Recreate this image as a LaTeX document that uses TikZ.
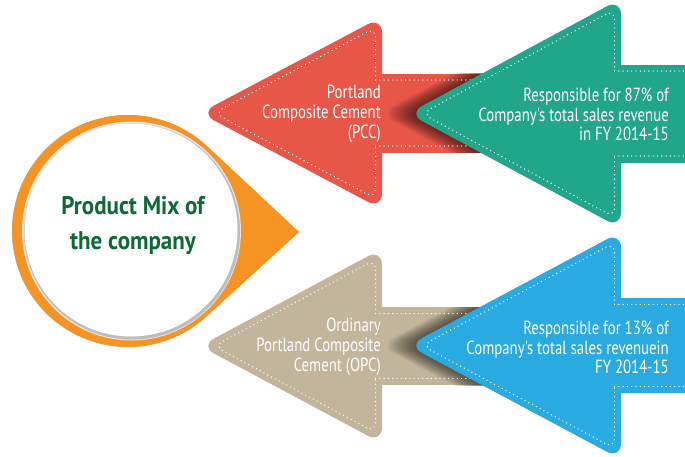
\documentclass[tikz,border=0pt]{standalone}
\usepackage{fontspec}
\newfontfamily\condfont[FakeStretch=0.78,Ligatures=TeXOff]{PT Sans}
\newfontfamily\titlefont[FakeStretch=0.9,Ligatures=TeXOff]{PT Sans Bold}

\definecolor{dropor}{RGB}{245,148,34}
\definecolor{pccred}{RGB}{232,86,72}
\definecolor{shareteal}{RGB}{33,166,140}
\definecolor{opctan}{RGB}{194,181,155}
\definecolor{shareblue}{RGB}{41,170,225}
\definecolor{titlegreen}{RGB}{12,106,54}

\tikzset{
  dotline/.style={white, line width=1.4pt, line cap=round, dash pattern=on 0pt off 4.3pt},
  headround/.style={rounded corners=16pt},
  arrowtext/.style={text=white, font=\condfont\fontsize{19}{19.7}\selectfont,
    align=right, inner sep=0pt, anchor=east},
  titletext/.style={text=titlegreen, font=\titlefont\fontsize{25.5}{35}\selectfont,
    align=center, inner sep=0pt},
}

% #1 colour, #2 tip x, #3 head back x, #4 shaft end x, #5 axis y,
% #6 head half-height, #7 shaft half-height
\newcommand\arwBody[7]{%
  \fill[#1] (#3,{#5-#7}) rectangle (#4,{#5+#7});
  \fill[#1, headround] (#3,{#5-#6}) -- (#2,#5) -- (#3,{#5+#6}) -- cycle;
}
% dotted white outline set inside the arrow
\newcommand\arwDots[7]{%
  \pgfmathsetmacro\arwLen{#3-#2}
  \pgfmathsetmacro\arwSin{#6/veclen(#6,\arwLen)}
  \pgfmathsetmacro\arwIns{6.5}
  \pgfmathsetmacro\arwBx{#3-\arwIns}
  \pgfmathsetmacro\arwTx{#2+\arwIns/\arwSin}
  \pgfmathsetmacro\arwHi{(\arwLen-\arwIns-\arwIns/\arwSin)/\arwLen*#6}
  \pgfmathsetmacro\arwSy{#7-\arwIns}
  \draw[dotline, rounded corners=10pt] (\arwBx,{#5-\arwSy}) -- (\arwBx,{#5-\arwHi})
     -- (\arwTx,#5) -- (\arwBx,{#5+\arwHi}) -- (\arwBx,{#5+\arwSy});
  \draw[dotline] (\arwBx,{#5-\arwSy}) -- (#4,{#5-\arwSy});
  \draw[dotline] (\arwBx,{#5+\arwSy}) -- (#4,{#5+\arwSy});
}
% soft shadow of a head (#1 tip x, #2 back x, #3 axis y, #4 head half-height)
% cast on the shaft clipped by #5..#8 (x1,y1,x2,y2)
\newcommand\arwShadow[8]{%
  \begin{scope}
    \clip (#5,#6) rectangle (#7,#8);
    \foreach \k in {1,...,12}{
      \fill[black, opacity=0.055, headround, xshift={-2.4*\k}]
        (#2,{#3-#4}) -- (#1,#3) -- (#2,{#3+#4}) -- cycle;
    }
  \end{scope}
}
% teardrop outline: circle round (dropc) with radius 116, pointed at (droptip)
\newcommand\dropPath{(droptip) -- ([shift={(-47.3:116)}]dropc)
     arc[start angle=-47.3, end angle=-312.7, radius=116] -- cycle}

\begin{document}
\begin{tikzpicture}[x=1pt,y=-1pt]
  \useasboundingbox (0,0) rectangle (685,456);
  \fill[white] (0,0) rectangle (685,456);

  % ---- teardrop with the title ----
  \coordinate (dropc) at (128,231);
  \coordinate (droptip) at (299,232);
  \begin{scope}[shift={(1.5,3)}]
    \fill[black!22] \dropPath;
  \end{scope}
  \fill[dropor] \dropPath;
  \fill[black!10] (131.5,231) circle (109.5);
  \fill[black!26] (132,231.5) circle (108);
  \fill[white] (131,230) circle (106.5);
  \node[titletext] (title) at (133,226) {Product Mix of\\the company};

  % ---- upper pair ----
  \arwBody{pccred}{200}{382}{520}{113}{96.3}{39.5}
  \arwShadow{408}{621}{113.5}{114.8}{382}{73.5}{520}{152.5}
  \arwDots{pccred}{200}{382}{520}{113}{96.3}{39.5}
  \node[arrowtext] (pcc) at (381,114) {Portland\\Composite Cement\\(PCC)};

  \arwBody{shareteal}{408}{621}{700}{113.5}{114.8}{49}
  \arwDots{shareteal}{408}{621}{700}{113.5}{114.8}{49}
  \node[arrowtext] (share87) at (669,114.5) {Responsible for 87\% of\\Company's total sales revenue\\in FY 2014-15};

  % ---- lower pair ----
  \arwBody{opctan}{200}{382}{520}{346}{97.3}{39}
  \arwShadow{408}{621}{345.5}{113.8}{382}{307}{520}{385}
  \arwDots{opctan}{200}{382}{520}{346}{97.3}{39}
  \node[arrowtext] (opc) at (381,347) {Ordinary\\Portland Composite\\Cement (OPC)};

  \arwBody{shareblue}{408}{621}{700}{345.5}{113.8}{47.5}
  \arwDots{shareblue}{408}{621}{700}{345.5}{113.8}{47.5}
  \node[arrowtext] (share13) at (669,347.5) {Responsible for 13\% of\\Company's total sales revenuein\\FY 2014-15};
\end{tikzpicture}
\end{document}
